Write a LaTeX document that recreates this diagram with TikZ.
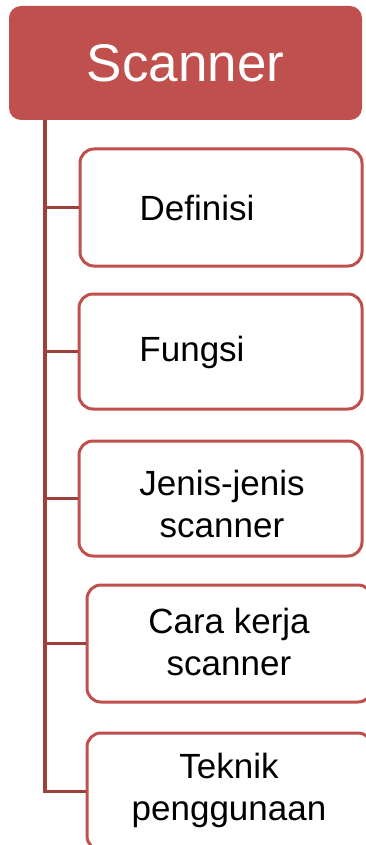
\documentclass[tikz,border=0pt]{standalone}
\usepackage{fontspec}
\setmainfont{Liberation Sans}
\usetikzlibrary{positioning}

\definecolor{redfill}{HTML}{C0504D}
\definecolor{redline}{HTML}{9E3F3C}

\begin{document}
\begin{tikzpicture}[x=1pt,y=-1pt,
    head/.style={rectangle,rounded corners=12pt,fill=redfill,draw=none,
                 minimum width=353pt,minimum height=114pt,inner sep=0pt,
                 text=white,font=\fontsize{53}{60}\selectfont},
    item/.style={rectangle,rounded corners=14pt,draw=redfill,fill=white,
                 line width=3pt,minimum width=283pt,minimum height=115pt,inner sep=0pt},
    txt/.style={align=center,font=\fontsize{35}{42}\selectfont},
    trunk/.style={draw=redline,line width=3.5pt}]

\useasboundingbox (0,0) rectangle (366,845);

\node[head] (root) at (185.5,63) {Scanner};

\node[item,minimum width=282pt,minimum height=117pt] (b1) at (221,207.5) {};
\node[item] (b2) at (220.5,351.5) {};
\node[item] (b3) at (220.5,498.5) {};
\node[item,minimum width=285pt,minimum height=117pt] (b4) at (229.5,643.5) {};
\node[item,minimum width=285pt,minimum height=117pt] (b5) at (229.5,791.5) {};

\node[txt] (t1) at (197,208) {Definisi};
\node[txt] (t2) at (192,352) {Fungsi};
\node[txt] (t3) at (222,504) {Jenis-jenis\\scanner};
\node[txt] (t4) at (229,642) {Cara kerja\\scanner};
\node[txt] (t5) at (229,790) {Teknik\\penggunaan};

\coordinate (k) at (45,0);

\draw[trunk] (root.south -| k) -- (b5.west -| k) -- (b5.west);
\draw[trunk] (b1.west -| k) -- (b1.west);
\draw[trunk] (b2.west -| k) -- (b2.west);
\draw[trunk] (b3.west -| k) -- (b3.west);
\draw[trunk] (b4.west -| k) -- (b4.west);

\end{tikzpicture}
\end{document}
